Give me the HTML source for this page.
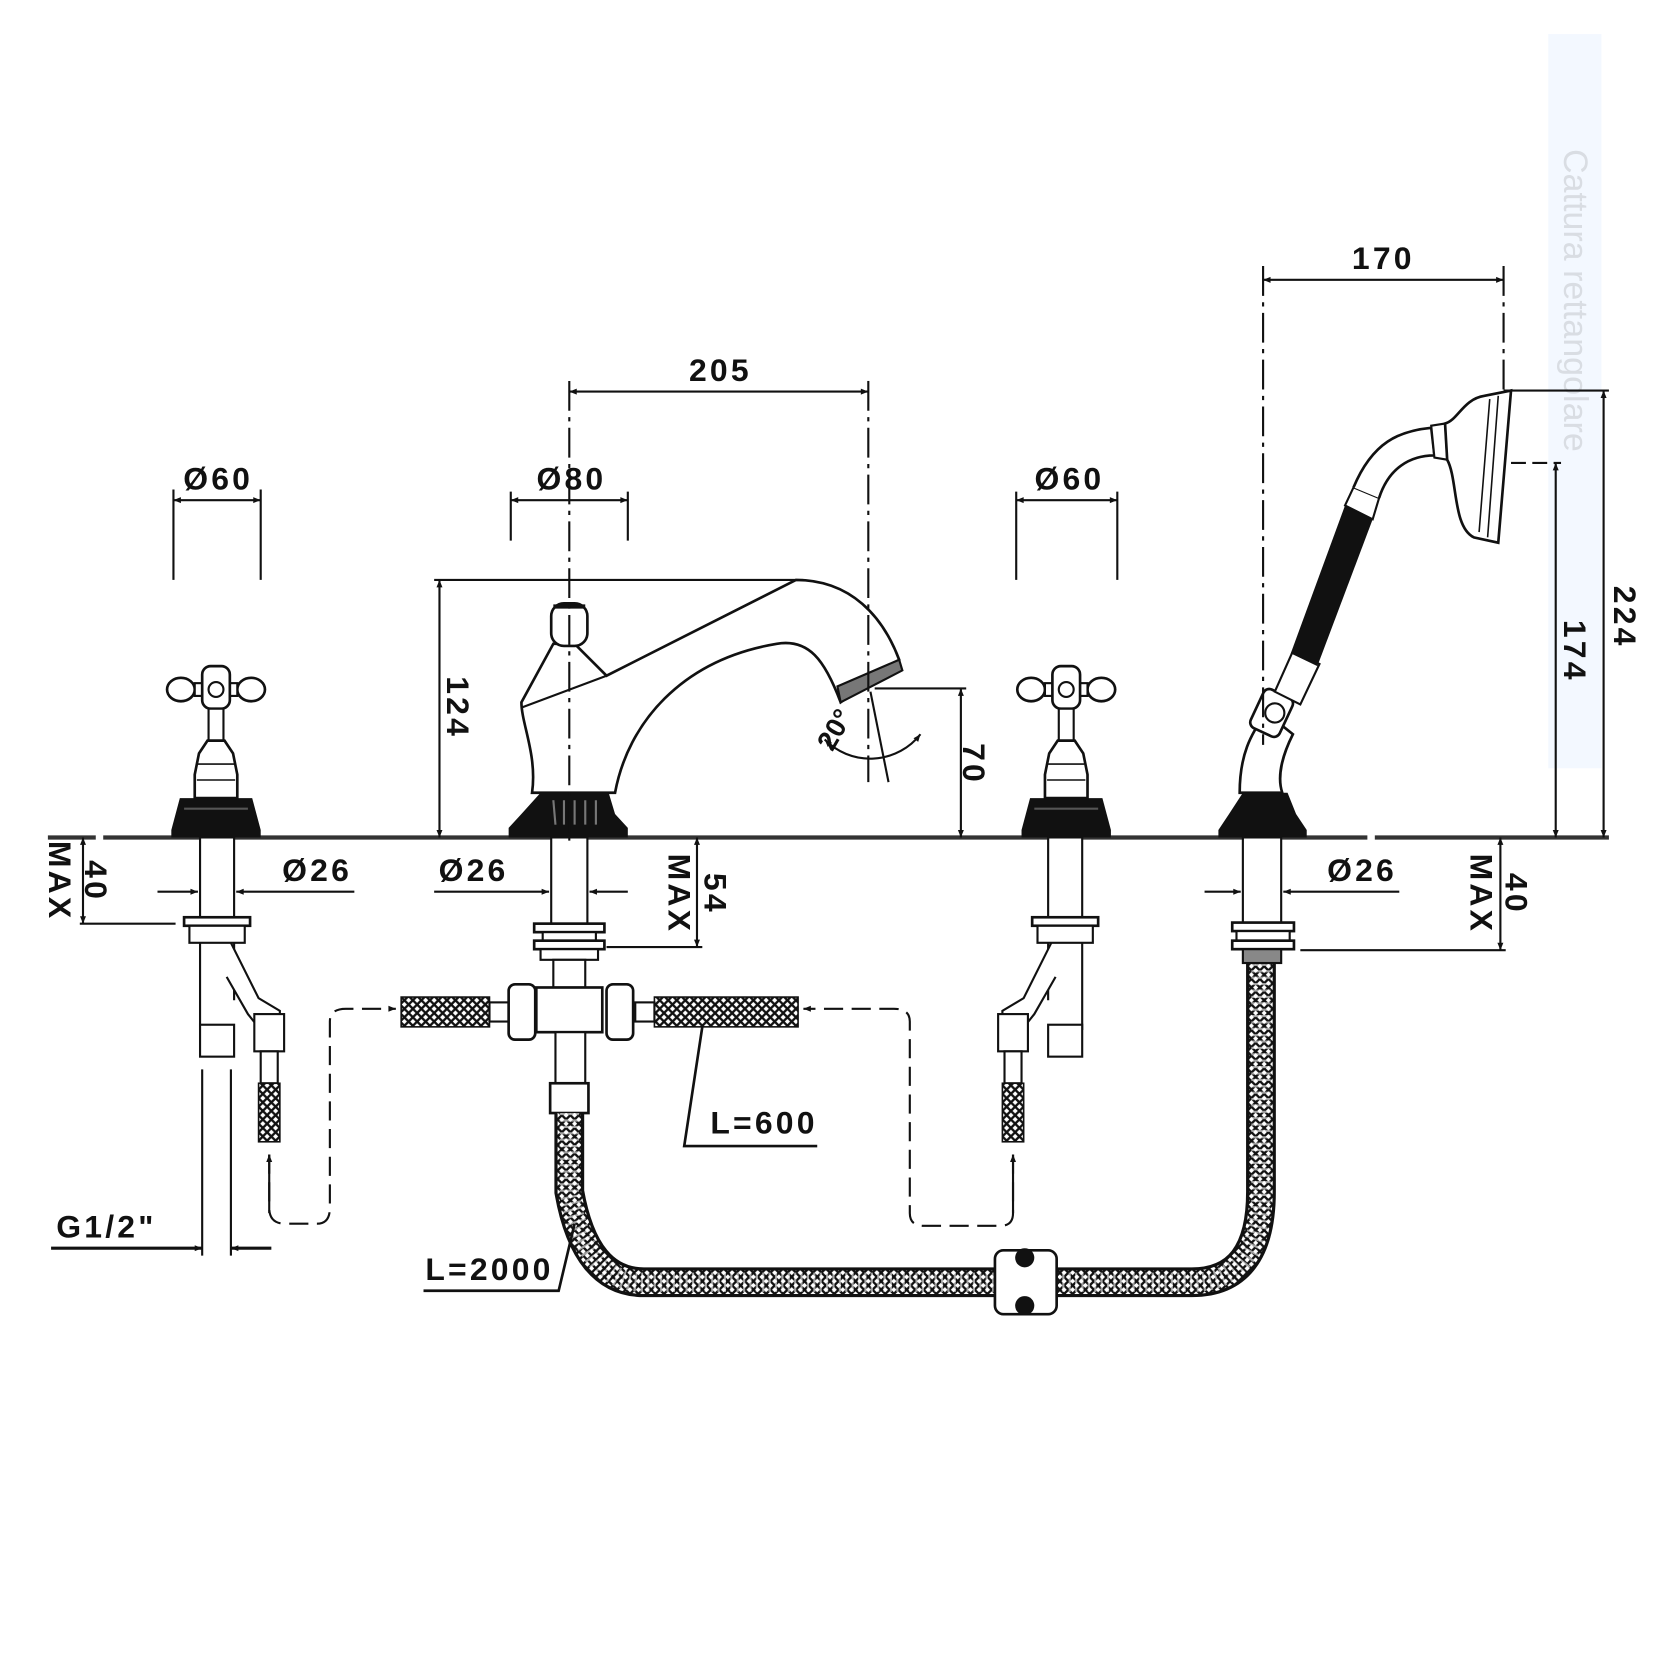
<!DOCTYPE html>
<html><head><meta charset="utf-8"><style>
html,body{margin:0;padding:0;background:#fff}
svg{display:block}
text{font-family:"Liberation Sans",sans-serif;font-weight:bold;fill:#111}
</style></head><body>
<svg width="1660" height="1660" viewBox="0 0 1560 1560" xmlns="http://www.w3.org/2000/svg">
<defs>
<pattern id="braid" width="8" height="8" patternUnits="userSpaceOnUse">
<rect width="8" height="8" fill="#fff"/>
<path d="M0 0L8 8M8 0L0 8" stroke="#111" stroke-width="2.2"/>
</pattern>
<marker id="ar" viewBox="0 0 10 10" refX="10" refY="5" markerWidth="9" markerHeight="7" orient="auto-start-reverse" markerUnits="userSpaceOnUse"><path d="M0 1L10 5L0 9Z" fill="#111"/></marker>
<g id="valve">
<ellipse cx="-33" cy="0" rx="13" ry="11" fill="#fff" stroke="#111" stroke-width="2.5"/>
<ellipse cx="33" cy="0" rx="13" ry="11" fill="#fff" stroke="#111" stroke-width="2.5"/>
<rect x="-20" y="-6" width="40" height="12" fill="#fff" stroke="#111" stroke-width="2"/>
<rect x="-13" y="-22" width="26" height="40" rx="8" fill="#fff" stroke="#111" stroke-width="2.5"/>
<circle cx="0" cy="0" r="7" fill="none" stroke="#111" stroke-width="2"/>
<rect x="-7" y="18" width="14" height="30" fill="#fff" stroke="#111" stroke-width="2"/>
<path d="M-8 48 L8 48 L16 60 L20 80 L20 102 L-20 102 L-20 80 L-16 60Z" fill="#fff" stroke="#111" stroke-width="2.5"/>
<path d="M-17 70 L17 70 M-18 85 L18 85" stroke="#111" stroke-width="1.5"/>
<path d="M-34 102 L34 102 L42 132 L42 139 L-42 139 L-42 132Z" fill="#111"/>
<path d="M-30 112 L30 112" stroke="#555" stroke-width="2"/>
<rect x="-15" y="139" width="32" height="75" fill="#fff" stroke="#111" stroke-width="2"/>
<rect x="-30" y="214" width="62" height="8" fill="#fff" stroke="#111" stroke-width="2.5"/>
<rect x="-25" y="222" width="52" height="16" fill="#fff" stroke="#111" stroke-width="2"/>
<path d="M-15 238 L-15 320 M17 238 L17 292" stroke="#111" stroke-width="2"/>
<rect x="-15" y="315" width="32" height="30" fill="#fff" stroke="#111" stroke-width="2"/>
<path d="M14 238 L40 290 L60 302 L60 320 L42 320 L30 305 L10 270" fill="#fff" stroke="#111" stroke-width="2"/>
<rect x="36" y="305" width="28" height="35" fill="#fff" stroke="#111" stroke-width="2"/>
<rect x="42" y="340" width="16" height="30" fill="#fff" stroke="#111" stroke-width="2"/>
<rect x="40" y="370" width="20" height="55" fill="url(#braid)" stroke="#111" stroke-width="1.5"/>
</g>
</defs>

<!-- watermark -->
<rect x="1455" y="32" width="50" height="690" fill="#eef5ff" opacity="0.7"/>
<text x="1470" y="140" transform="rotate(90 1470 140)" font-size="32" style="font-weight:normal;fill:#d9dde3">Cattura rettangolare</text>

<!-- ground line -->
<path d="M45 787 L90 787 M97 787 L1285 787 M1292 787 L1512 787" stroke="#333" stroke-width="4"/>

<!-- left valve -->
<use href="#valve" transform="translate(203 648)"/>
<!-- right valve mirrored -->
<use href="#valve" transform="translate(1002 648) scale(-1 1)"/>

<!-- spout -->
<path d="M500 745 C505 710 490 680 490 660 L520 605 L540 605 L570 635 L748 545 C800 545 830 580 845 620 L790 660 C775 620 760 600 730 605 C640 620 590 680 578 745Z" fill="#fff" stroke="#111" stroke-width="2.5"/>
<path d="M490 665 L570 635" stroke="#111" stroke-width="2"/>
<path d="M787 645 L845 620 L848 630 L790 660Z" fill="#777" stroke="#111" stroke-width="2"/>
<rect x="518" y="567" width="34" height="40" rx="12" fill="#fff" stroke="#111" stroke-width="2.5"/>
<path d="M520 570 L550 570" stroke="#111" stroke-width="4"/>
<path d="M508 745 L572 745 L578 765 L590 778 L590 787 L478 787 L478 778 L490 765Z" fill="#111"/>
<path d="M520 752 L522 775 M530 752 L530 775 M540 752 L540 775 M550 752 L550 775 M560 752 L560 775" stroke="#777" stroke-width="2"/>
<!-- spout below -->
<rect x="518" y="787" width="34" height="83" fill="#fff" stroke="#111" stroke-width="2"/>
<rect x="502" y="868" width="66" height="8" fill="#fff" stroke="#111" stroke-width="2.5"/>
<rect x="510" y="876" width="50" height="8" fill="#fff" stroke="#111" stroke-width="2"/>
<rect x="502" y="884" width="66" height="8" fill="#fff" stroke="#111" stroke-width="2.5"/>
<rect x="508" y="892" width="54" height="10" fill="#fff" stroke="#111" stroke-width="2"/>
<rect x="520" y="902" width="30" height="26" fill="#fff" stroke="#111" stroke-width="2"/>
<rect x="377" y="937" width="83" height="28" fill="url(#braid)" stroke="#111" stroke-width="1.5"/>
<rect x="615" y="937" width="135" height="28" fill="url(#braid)" stroke="#111" stroke-width="1.5"/>
<rect x="460" y="942" width="18" height="18" fill="#fff" stroke="#111" stroke-width="2"/>
<rect x="597" y="942" width="18" height="18" fill="#fff" stroke="#111" stroke-width="2"/>
<rect x="478" y="925" width="25" height="52" rx="6" fill="#fff" stroke="#111" stroke-width="2.5"/>
<rect x="570" y="925" width="25" height="52" rx="6" fill="#fff" stroke="#111" stroke-width="2.5"/>
<rect x="504" y="928" width="62" height="42" fill="#fff" stroke="#111" stroke-width="2.5"/>
<rect x="522" y="970" width="28" height="50" fill="#fff" stroke="#111" stroke-width="2"/>
<rect x="517" y="1018" width="36" height="28" fill="#fff" stroke="#111" stroke-width="2.5"/>
<!-- long hose -->
<path d="M535 1046 L535 1120 Q550 1205 605 1205 L1120 1205 Q1185 1205 1185 1120 L1185 905" fill="none" stroke="#111" stroke-width="28"/>
<path d="M535 1046 L535 1120 Q550 1205 605 1205 L1120 1205 Q1185 1205 1185 1120 L1185 905" fill="none" stroke="url(#braid)" stroke-width="22"/>
<path d="M535 1046 L535 1120 Q550 1205 605 1205 L1120 1205 Q1185 1205 1185 1120 L1185 905" fill="none" stroke="#fff" stroke-width="18" stroke-dasharray="2 4" opacity="0.6"/>
<!-- clamp -->
<rect x="935" y="1175" width="58" height="60" rx="8" fill="#fff" stroke="#111" stroke-width="2.5"/>
<circle cx="963" cy="1182" r="9" fill="#111"/><circle cx="963" cy="1227" r="9" fill="#111"/>

<!-- hand shower -->
<path d="M1165 745 C1165 710 1175 690 1190 670 L1215 690 C1205 710 1200 730 1205 745Z" fill="#fff" stroke="#111" stroke-width="2.5"/>
<rect x="1180" y="650" width="30" height="40" rx="6" transform="rotate(25 1195 670)" fill="#fff" stroke="#111" stroke-width="2.5"/>
<circle cx="1198" cy="670" r="9" fill="none" stroke="#111" stroke-width="2"/>
<path d="M1198 650 L1215 612 L1240 624 L1222 662Z" fill="#fff" stroke="#111" stroke-width="2"/>
<path d="M1213 614 L1264 475 L1290 488 L1238 626Z" fill="#111"/>
<path d="M1264 475 L1272 458 L1296 468 L1290 488Z" fill="#fff" stroke="#111" stroke-width="2"/>
<path d="M1272 458 C1290 415 1315 405 1345 402 L1348 428 C1325 428 1305 440 1296 468" fill="#fff" stroke="#111" stroke-width="2.5"/>
<path d="M1345 400 L1358 398 L1360 432 L1348 430Z" fill="#fff" stroke="#111" stroke-width="2"/>
<path d="M1358 398 C1370 395 1375 375 1395 372 L1420 367 L1408 510 L1385 505 C1365 495 1370 450 1360 432Z" fill="#fff" stroke="#111" stroke-width="2.5"/>
<path d="M1400 375 L1390 500 M1408 372 L1398 505" stroke="#111" stroke-width="1.5"/>
<path d="M1168 745 L1210 745 L1218 765 L1228 780 L1228 787 L1145 787 L1145 780 L1155 765Z" fill="#111"/>
<rect x="1168" y="787" width="36" height="80" fill="#fff" stroke="#111" stroke-width="2"/>
<rect x="1158" y="867" width="58" height="8" fill="#fff" stroke="#111" stroke-width="2.5"/>
<rect x="1162" y="875" width="50" height="9" fill="#fff" stroke="#111" stroke-width="2"/>
<rect x="1158" y="884" width="58" height="8" fill="#fff" stroke="#111" stroke-width="2.5"/>
<rect x="1168" y="892" width="36" height="13" fill="#888" stroke="#111" stroke-width="2"/>

<!-- dimension lines -->
<g stroke="#111" stroke-width="2" fill="none">
<!-- Ø60 left -->
<path d="M163 460 L163 545 M245 460 L245 545"/>
<path d="M163 470 L245 470" marker-start="url(#ar)" marker-end="url(#ar)"/>
<!-- Ø80 -->
<path d="M480 462 L480 508 M590 462 L590 508"/>
<path d="M480 470 L590 470" marker-start="url(#ar)" marker-end="url(#ar)"/>
<!-- Ø60 right -->
<path d="M955 462 L955 545 M1050 462 L1050 545"/>
<path d="M955 470 L1050 470" marker-start="url(#ar)" marker-end="url(#ar)"/>
<!-- centerlines -->
<path d="M535 358 L535 790" stroke-dasharray="28 6 4 6"/>
<path d="M816 358 L816 735" stroke-dasharray="28 6 4 6"/>
<path d="M1187 250 L1187 700" stroke-dasharray="28 6 4 6"/>
<path d="M1413 250 L1413 367" stroke-dasharray="28 6 4 6"/>
<!-- 205 -->
<path d="M535 368 L816 368" marker-start="url(#ar)" marker-end="url(#ar)"/>
<!-- 170 -->
<path d="M1187 263 L1413 263" marker-start="url(#ar)" marker-end="url(#ar)"/>
<!-- 124 -->
<path d="M408 545 L755 545"/>
<path d="M413 545 L413 787" marker-start="url(#ar)" marker-end="url(#ar)"/>
<!-- 70 -->
<path d="M822 647 L908 647"/>
<path d="M903 647 L903 787" marker-start="url(#ar)" marker-end="url(#ar)"/>
<!-- 20 deg -->
<path d="M818 650 L835 735"/>
<path d="M775 695 A60 60 0 0 0 865 690" marker-start="url(#ar)" marker-end="url(#ar)"/>
<!-- 224 -->
<path d="M1413 367 L1512 367"/>
<path d="M1507 367 L1507 787" marker-start="url(#ar)" marker-end="url(#ar)"/>
<!-- 174 -->
<path d="M1420 435 L1467 435" stroke-dasharray="14 6"/>
<path d="M1462 435 L1462 787" marker-start="url(#ar)" marker-end="url(#ar)"/>
<!-- left 40 MAX -->
<path d="M75 868 L165 868"/>
<path d="M78 787 L78 868" marker-start="url(#ar)" marker-end="url(#ar)"/>
<!-- Ø26 left -->
<path d="M148 838 L186 838" marker-end="url(#ar)"/>
<path d="M333 838 L222 838" marker-end="url(#ar)"/>
<!-- Ø26 center -->
<path d="M408 838 L516 838" marker-end="url(#ar)"/>
<path d="M590 838 L554 838" marker-end="url(#ar)"/>
<!-- 54 MAX -->
<path d="M570 890 L660 890"/>
<path d="M655 787 L655 890" marker-start="url(#ar)" marker-end="url(#ar)"/>
<!-- Ø26 right -->
<path d="M1132 838 L1166 838" marker-end="url(#ar)"/>
<path d="M1315 838 L1206 838" marker-end="url(#ar)"/>
<!-- right 40 MAX -->
<path d="M1222 893 L1415 893"/>
<path d="M1410 787 L1410 893" marker-start="url(#ar)" marker-end="url(#ar)"/>
<!-- G1/2 -->
<path d="M190 1005 L190 1180 M217 1005 L217 1180"/>
<path d="M48 1173 L190 1173" stroke-width="3" marker-end="url(#ar)"/>
<path d="M255 1173 L217 1173" stroke-width="3" marker-end="url(#ar)"/>
<!-- dashed water connections -->
<path d="M253 1085 L253 1135 Q253 1150 268 1150 L298 1150 Q310 1150 310 1135 L310 960 Q310 948 325 948 L372 948" stroke-dasharray="18 8" marker-end="url(#ar)"/>
<path d="M253 1140 L253 1085" marker-end="url(#ar)"/>
<path d="M952 1085 L952 1140 Q952 1152 940 1152 L868 1152 Q855 1152 855 1140 L855 960 Q855 948 840 948 L755 948" stroke-dasharray="18 8" marker-end="url(#ar)"/>
<path d="M952 1140 L952 1085" marker-end="url(#ar)"/>
<!-- L=600 leader -->
<path d="M660 965 L643 1077 L768 1077" stroke-width="2.5"/>
<!-- L=2000 leader -->
<path d="M398 1213 L525 1213 L540 1150" stroke-width="2.5"/>
</g>

<!-- labels -->
<g font-size="30" letter-spacing="3">
<text x="205" y="460" text-anchor="middle">Ø60</text>
<text x="537" y="460" text-anchor="middle">Ø80</text>
<text x="1005" y="460" text-anchor="middle">Ø60</text>
<text x="677" y="358" text-anchor="middle">205</text>
<text x="1300" y="253" text-anchor="middle">170</text>
<text x="298" y="828" text-anchor="middle">Ø26</text>
<text x="445" y="828" text-anchor="middle">Ø26</text>
<text x="1280" y="828" text-anchor="middle">Ø26</text>
<text x="718" y="1065" text-anchor="middle">L=600</text>
<text x="460" y="1203" text-anchor="middle">L=2000</text>
<text x="100" y="1163" text-anchor="middle">G1/2"</text>
<text transform="translate(420 665) rotate(90)" text-anchor="middle">124</text>
<text transform="translate(905 718) rotate(90)" text-anchor="middle">70</text>
<text transform="translate(1517 580) rotate(90)" text-anchor="middle">224</text>
<text transform="translate(1470 612) rotate(90)" text-anchor="middle">174</text>
<text transform="translate(80 828) rotate(90)" text-anchor="middle">40</text>
<text transform="translate(46 828) rotate(90)" text-anchor="middle">MAX</text>
<text transform="translate(662 840) rotate(90)" text-anchor="middle">54</text>
<text transform="translate(628 840) rotate(90)" text-anchor="middle">MAX</text>
<text transform="translate(1415 840) rotate(90)" text-anchor="middle">40</text>
<text transform="translate(1382 840) rotate(90)" text-anchor="middle">MAX</text>
<text transform="translate(792 690) rotate(-60)" text-anchor="middle" font-size="26" letter-spacing="0">20°</text>
</g>
</svg>
</body></html>
